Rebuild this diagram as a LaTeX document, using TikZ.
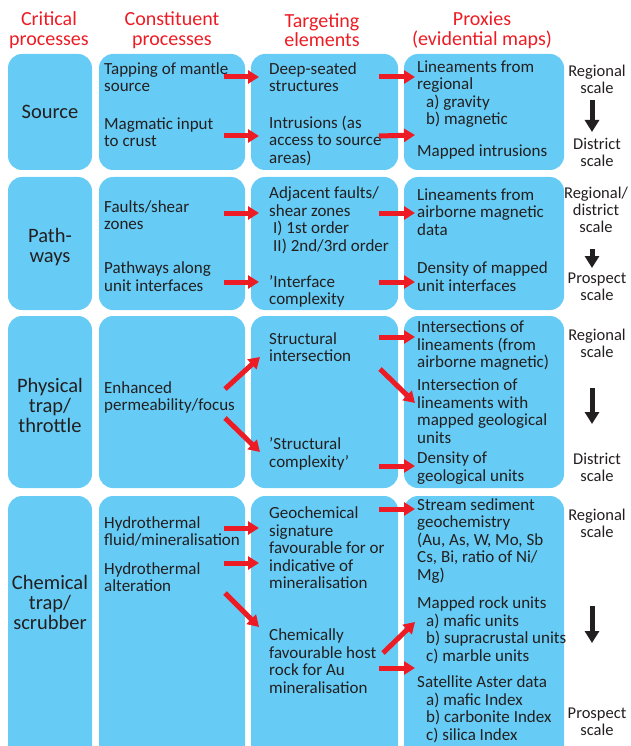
\documentclass[tikz,border=0pt]{standalone}
\usepackage{fontspec}
\setmainfont{Carlito}
\usetikzlibrary{arrows.meta}
\definecolor{boxblue}{RGB}{102,204,245}
\definecolor{arrred}{RGB}{237,28,36}
\definecolor{ink}{RGB}{35,31,32}

\begin{document}
\begin{tikzpicture}[x=1pt,y=-1pt,
  box/.style={fill=boxblue,rounded corners=14pt},
  head/.style={text=arrred,align=center,inner sep=0pt,font=\fontsize{20}{19.5}\selectfont},
  crit/.style={text=ink,align=center,inner sep=0pt,font=\fontsize{20.5}{20}\selectfont},
  body/.style={text=ink,align=left,anchor=west,inner sep=0pt,font=\fontsize{17}{17.5}\selectfont},
  scl/.style={text=ink,align=center,inner sep=0pt,font=\fontsize{16.5}{17}\selectfont},
  redarr/.style={draw=arrred,line width=5pt,-{Triangle[length=11pt,width=13pt]}},
  blkarr/.style={draw=ink,line width=5pt,-{Triangle[length=12pt,width=14pt]}}]
\clip (0,0) rectangle (630,746);

% column headers
\node[head] (hcrit) at (49,30) {Critical\\processes};
\node[head] (hcons) at (172,30) {Constituent\\processes};
\node[head] (htarg) at (322,30) {Targeting\\elements};
\node[head] (hprox) at (482,30) {Proxies\\(evidential maps)};

% blue boxes
\foreach \ya/\yb in {54/170, 177/310, 316/488, 496/760}{
  \fill[box] (8,\ya) rectangle (92,\yb);
  \fill[box] (99,\ya) rectangle (245,\yb);
  \fill[box] (251,\ya) rectangle (398,\yb);
  \fill[box] (404,\ya) rectangle (564,\yb);
}

% source
\node[crit] (source) at (50,112) {Source};
\node[body] (tap) at (104,77) {Tapping of mantle\\source};
\node[body] (magma) at (104,132) {Magmatic input\\to crust};
\node[body] (deep) at (269,77) {Deep-seated\\structures};
\node[body] (intr) at (269,140.5) {Intrusions (as\\access to source\\areas)};
\node[body] (linreg) at (417,94) {Lineaments from\\regional\\\hspace*{9pt}a) gravity\\\hspace*{9pt}b) magnetic};
\node[body] (mapint) at (417,152) {Mapped intrusions};
\node[scl] (reg1) at (597,79.5) {Regional\\scale};
\node[scl] (dis1) at (597,152.5) {District\\scale};

% pathways
\node[crit] (path) at (50,247) {Path-\\ways};
\node[body] (fault) at (104,215) {Faults/shear\\zones};
\node[body] (along) at (104,276.5) {Pathways along\\unit interfaces};
\node[body] (adj) at (269,220.5) {Adjacent faults/\\shear zones\\\hspace*{4pt}I) 1st order\\\hspace*{4pt}II) 2nd/3rd order};
\node[body] (iface) at (269,291.5) {'Interface\\complexity};
\node[body] (linair) at (417,212) {Lineaments from\\airborne magnetic\\data};
\node[body] (densu) at (417,276.5) {Density of mapped\\unit interfaces};
\node[scl] (reg2) at (596,210) {Regional/\\district\\scale};
\node[scl] (pro2) at (597,287) {Prospect\\scale};

% physical trap
\node[crit] (phys) at (50,405) {Physical\\trap/\\throttle};
\node[body] (enh) at (104,397.5) {Enhanced\\permeability/focus};
\node[body] (sint) at (269,347) {Structural\\intersection};
\node[body] (scomp) at (269,454) {'Structural\\complexity'};
\node[body] (isec) at (417,346) {Intersections of\\lineaments (from\\airborne magnetic)};
\node[body] (isecu) at (417,411) {Intersection of\\lineaments with\\mapped geological\\units};
\node[body] (densg) at (417,468) {Density of\\geological units};
\node[scl] (reg3) at (597,343) {Regional\\scale};
\node[scl] (dis3) at (597,467.5) {District\\scale};

% chemical trap
\node[crit] (chem) at (50,602) {Chemical\\trap/\\scrubber};
\node[body] (hfluid) at (104,531.5) {Hydrothermal\\fluid/mineralisation};
\node[body] (halt) at (104,577) {Hydrothermal\\alteration};
\node[body] (geosig) at (269,548) {Geochemical\\signature\\favourable for or\\indicative of\\mineralisation};
\node[body] (host) at (269,661) {Chemically\\favourable host\\rock for Au\\mineralisation};
\node[body] (stream) at (417,541) {Stream sediment\\geochemistry\\(Au, As, W, Mo, Sb\\Cs, Bi, ratio of Ni/\\Mg)};
\node[body] (rock) at (417,630.5) {Mapped rock units\\\hspace*{9pt}a) mafic units\\\hspace*{9pt}b) supracrustal units\\\hspace*{9pt}c) marble units};
\node[body] (aster) at (417,709.5) {Satellite Aster data\\\hspace*{9pt}a) mafic Index\\\hspace*{9pt}b) carbonite Index\\\hspace*{9pt}c) silica Index};
\node[scl] (reg4) at (597,523) {Regional\\scale};
\node[scl] (pro4) at (597,721.5) {Prospect\\scale};

% arrow ends
\foreach \n/\p in {
  a1/{224,77}, b1/{259,77}, a2/{224,136}, b2/{259,136},
  c1/{379,77}, d1/{415,77}, c2/{379,136}, d2/{415,135},
  a3/{224,213}, b3/{259,213}, a4/{224,282}, b4/{259,282},
  c3/{379,213}, d3/{415,213}, c4/{379,282}, d4/{415,282},
  a5/{225,389}, b5/{260,357}, a6/{225,418}, b6/{260,452},
  c5/{379,337}, d5/{415,337}, c6/{380,369}, d6/{415,403}, c7/{379,466}, d7/{415,466},
  a7/{224,528}, b7/{259,528}, a8/{224,563}, b8/{259,563}, a9/{225,593}, b9/{259,627},
  c8/{379,509}, d8/{415,509}, c9/{383,653}, d9/{415,622}, c10/{379,668}, d10/{415,668},
  s1/{592,100}, e1/{592,132}, s2/{592,249}, e2/{592,268},
  s3/{592,388}, e3/{592,424}, s4/{592,606}, e4/{592,643}}
  \coordinate (\n) at (\p);
\foreach \s/\t in {a1/b1, a2/b2, c1/d1, c2/d2, a3/b3, a4/b4, c3/d3, c4/d4,
  a5/b5, a6/b6, c5/d5, c6/d6, c7/d7, a7/b7, a8/b8, a9/b9, c8/d8, c9/d9, c10/d10}
  \draw[redarr] (\s) -- (\t);

% scale arrows
\foreach \s/\t in {s1/e1, s2/e2, s3/e3, s4/e4}
  \draw[blkarr] (\s) -- (\t);
\end{tikzpicture}
\end{document}
